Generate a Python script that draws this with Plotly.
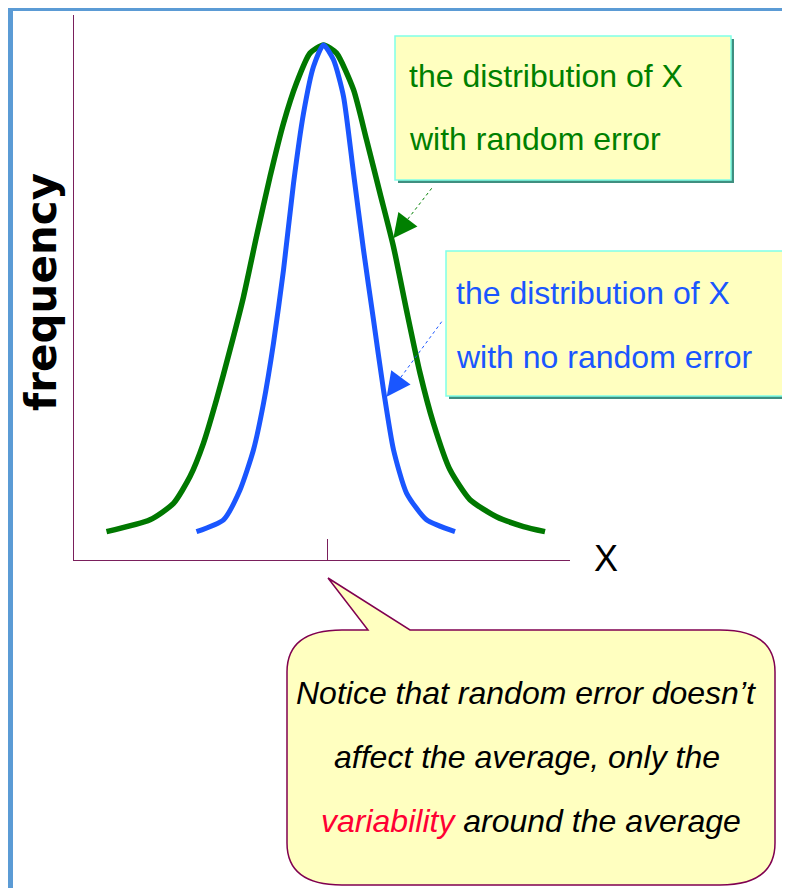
import plotly.graph_objects as go

# ---- data (X in arbitrary units, 0 = average; frequency relative to peak) ----
green_x = [-4.41, -3.54, -3.07, -2.74, -2.47, -2.21, -1.94, -1.67, -1.41, -1.14, -0.87, -0.61,
           -0.34, -0.07, 0.19, 0.53, 0.79, 1.06, 1.33, 1.59, 1.86, 2.13, 2.46, 2.86, 3.39, 3.93, 4.36]
green_y = [0.055, 0.078, 0.110, 0.162, 0.227, 0.311, 0.408, 0.511, 0.628, 0.744, 0.848, 0.926,
           0.984, 1.000, 0.984, 0.913, 0.816, 0.712, 0.608, 0.485, 0.363, 0.265, 0.175, 0.117,
           0.084, 0.065, 0.055]

blue_x = [-2.61, -2.07, -1.74, -1.47, -1.27, -1.07, -0.87, -0.67, -0.47, -0.27, -0.07, 0.13,
          0.33, 0.53, 0.73, 0.93, 1.13, 1.33, 1.59, 1.99, 2.56]
blue_y = [0.055, 0.078, 0.136, 0.214, 0.304, 0.421, 0.563, 0.731, 0.867, 0.958, 1.000, 0.971,
          0.900, 0.751, 0.602, 0.466, 0.330, 0.214, 0.130, 0.078, 0.055]

tick_vals = [0]
x_range = [-5.06, 4.86]
y_range = [0, 1.058]

# ---- layout geometry (reference pixels; the page body adds an 8px margin) ----
WIN_W, WIN_H = 790, 888
BODY = 8
L, R, T, B = 74, 570, 15, 560
PW, PH = R - L, B - T


def P(px, py):
    """reference pixel -> paper coordinates"""
    return (px - L) / PW, (B - py) / PH


def D(px, py):
    """reference pixel -> data coordinates"""
    x = x_range[0] + (px - L) / PW * (x_range[1] - x_range[0])
    y = y_range[0] + (B - py) / PH * (y_range[1] - y_range[0])
    return x, y


GREEN_LINE = "#007800"
GREEN_TEXT = "#008000"
BLUE = "#1A56FF"
AXIS = "#7A1F5C"
NOTE_FILL = "#FFFFC0"
SANS = "Liberation Sans, Arial, sans-serif"

fig = go.Figure()
fig.add_trace(go.Scatter(x=green_x, y=green_y, mode="lines",
                         line=dict(color=GREEN_LINE, width=5.5, shape="spline", smoothing=0.6),
                         name="with random error", hoverinfo="skip"))
fig.add_trace(go.Scatter(x=blue_x, y=blue_y, mode="lines",
                         line=dict(color=BLUE, width=5, shape="spline", smoothing=0.6),
                         name="with no random error", hoverinfo="skip"))

shapes = []
# outer blue frame
x0, y0 = P(10.5, 8.5)
x1, y1 = P(1000, 1100)
shapes.append(dict(type="rect", xref="paper", yref="paper", x0=x0, y0=y0, x1=x1, y1=y1,
                   line=dict(color="#5B9BD5", width=5), fillcolor="rgba(0,0,0,0)", layer="below"))


def note_box(px0, py0, px1, py1):
    sx0, sy0 = P(px0 + 3, py0 + 3)
    sx1, sy1 = P(px1 + 3, py1 + 3)
    shapes.append(dict(type="rect", xref="paper", yref="paper", x0=sx0, y0=sy0, x1=sx1, y1=sy1,
                       line=dict(width=0), fillcolor="#3F8F80", layer="above"))
    bx0, by0 = P(px0, py0)
    bx1, by1 = P(px1, py1)
    shapes.append(dict(type="rect", xref="paper", yref="paper", x0=bx0, y0=by0, x1=bx1, y1=by1,
                       line=dict(color="#80FFE8", width=1.5), fillcolor=NOTE_FILL, layer="above"))


note_box(395, 36, 731, 180)
note_box(446, 251, 787, 396)

# speech bubble
bx0, by0, bx1, by1 = 287, 630, 775, 885
rx, ry = 55, 42


def pp(px, py):
    x, y = P(px, py)
    return f"{x:.5f},{y:.5f}"


path = (f"M {pp(bx0, by0 + ry)} Q {pp(bx0, by0)} {pp(bx0 + rx, by0)} "
        f"L {pp(368, by0)} L {pp(328, 578)} L {pp(410, by0)} "
        f"L {pp(bx1 - rx, by0)} Q {pp(bx1, by0)} {pp(bx1, by0 + ry)} "
        f"L {pp(bx1, by1 - ry)} Q {pp(bx1, by1)} {pp(bx1 - rx, by1)} "
        f"L {pp(bx0 + rx, by1)} Q {pp(bx0, by1)} {pp(bx0, by1 - ry)} Z")
shapes.append(dict(type="path", xref="paper", yref="paper", path=path,
                   line=dict(color="#800050", width=1.5), fillcolor=NOTE_FILL, layer="above"))

# dotted arrow shafts
for (tx, ty), (hx, hy), col in [((431.7, 188.3), (397, 233), GREEN_TEXT),
                                ((441.7, 321.7), (390, 392), BLUE)]:
    ax0, ay0 = D(tx, ty)
    ax1, ay1 = D(hx, hy)
    shapes.append(dict(type="line", xref="x", yref="y", x0=ax0, y0=ay0, x1=ax1, y1=ay1,
                       line=dict(color=col, width=1, dash="dot"), layer="above"))

annotations = []
# arrow heads
for (bx, by), (tx, ty), col in [((402.5, 226.3), (393.3, 238.3), GREEN_TEXT),
                                ((395.5, 384.7), (386.7, 396.7), BLUE)]:
    hx, hy = D(tx, ty)
    ax, ay = D(bx, by)
    annotations.append(dict(x=hx, y=hy, ax=ax, ay=ay, xref="x", yref="y", axref="x", ayref="y",
                            text="", showarrow=True, arrowhead=2, arrowsize=2.4, arrowwidth=2,
                            arrowcolor=col))


def label(text, px, py, size, color, family=SANS, anchor="left", style="normal", angle=0,
          weight="normal"):
    x, y = P(px, py)
    annotations.append(dict(x=x, y=y, xref="paper", yref="paper", text=text, showarrow=False,
                            xanchor=anchor, yanchor="middle", textangle=angle,
                            font=dict(family=family, size=size, color=color, style=style,
                                      weight=weight)))


label("the distribution of X", 407, 76, 32, GREEN_TEXT)
label("with random error", 407, 139, 32, GREEN_TEXT)
label("the distribution of X", 454, 293, 32, BLUE)
label("with no random error", 454, 357, 32, BLUE)
label("X", 606, 558, 36, "black", anchor="center")
label("frequency", 41, 292, 42, "black", family="DejaVu Sans, sans-serif", anchor="center",
      angle=-90, weight="bold")
label("Notice that random error doesn\u2019t", 526, 693, 32, "black", anchor="center", style="italic")
label("affect the average, only the", 527, 757, 32, "black", anchor="center", style="italic")
label("<span style='color:#FF0033'>variability</span> around the average", 531, 821, 32, "black",
      anchor="center", style="italic")

fig.update_layout(
    width=WIN_W - BODY, height=WIN_H - BODY,
    margin=dict(l=L - BODY, r=WIN_W - R, t=T - BODY, b=WIN_H - B, pad=0),
    paper_bgcolor="white", plot_bgcolor="white",
    showlegend=False,
    shapes=shapes, annotations=annotations,
    xaxis=dict(range=x_range, showgrid=False, zeroline=False, showline=True, linecolor=AXIS,
               linewidth=1, tickvals=tick_vals, ticks="inside", ticklen=21, tickwidth=1,
               tickcolor=AXIS, showticklabels=False, fixedrange=True),
    yaxis=dict(range=y_range, showgrid=False, zeroline=False, showline=True, linecolor=AXIS,
               linewidth=1, showticklabels=False, ticks="", fixedrange=True),
)

fig.write_html("out.html")
